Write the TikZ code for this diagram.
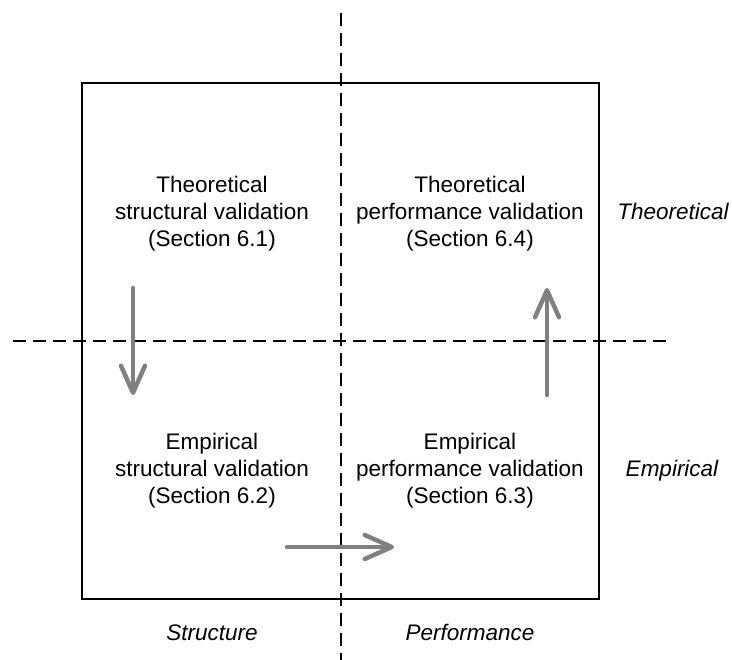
\documentclass[tikz,border=0pt]{standalone}
\usepackage{fontspec}
\setmainfont{Liberation Sans}
\usetikzlibrary{arrows.meta}
\definecolor{arrowgray}{HTML}{808080}
\tikzset{
  guide/.style={line width=2pt, dash pattern=on 13pt off 7pt},
  frame/.style={line width=1.5pt},
  flow/.style={line width=4.5pt, color=arrowgray, line cap=round,
    -{Straight Barb[length=27pt,width=24pt,line width=4.5pt,round]}},
  quad/.style={align=center, font=\fontsize{22.5}{27}\selectfont, inner sep=0pt},
  side/.style={font=\fontsize{22.5}{27}\selectfont\itshape, inner sep=0pt, anchor=base}
}
\begin{document}
\begin{tikzpicture}[x=1pt,y=-1pt]
\useasboundingbox (0,0) rectangle (732,660);
% frame
\draw[frame] (82,83) rectangle (599,599);
% guide lines
\coordinate (vtop) at (341,13);
\coordinate (vbot) at (341,660);
\coordinate (hleft) at (13,341);
\coordinate (hright) at (668,341);
\draw[guide] (vtop) -- (vbot);
\draw[guide] (hleft) -- (hright);
% quadrant texts
\node[quad] (tsv) at (212,213.6) {Theoretical\\structural validation\\(Section 6.1)};
\node[quad] (tpv) at (470,213.6) {Theoretical\\performance validation\\(Section 6.4)};
\node[quad] (esv) at (212,471.1) {Empirical\\structural validation\\(Section 6.2)};
\node[quad] (epv) at (470,471.1) {Empirical\\performance validation\\(Section 6.3)};
% side labels
\node[side] (lt) at (673,220) {Theoretical};
\node[side] (le) at (672,477) {Empirical};
\node[side] (ls) at (212,640.7) {Structure};
\node[side] (lp) at (470,640.7) {Performance};
% arrows
\coordinate (d1) at (133,288);
\coordinate (d2) at (133,395);
\coordinate (u1) at (547,395);
\coordinate (u2) at (547,288);
\coordinate (r1) at (287,547);
\coordinate (r2) at (394,547);
\draw[flow] (d1) -- (d2);
\draw[flow] (u1) -- (u2);
\draw[flow] (r1) -- (r2);
\end{tikzpicture}
\end{document}
